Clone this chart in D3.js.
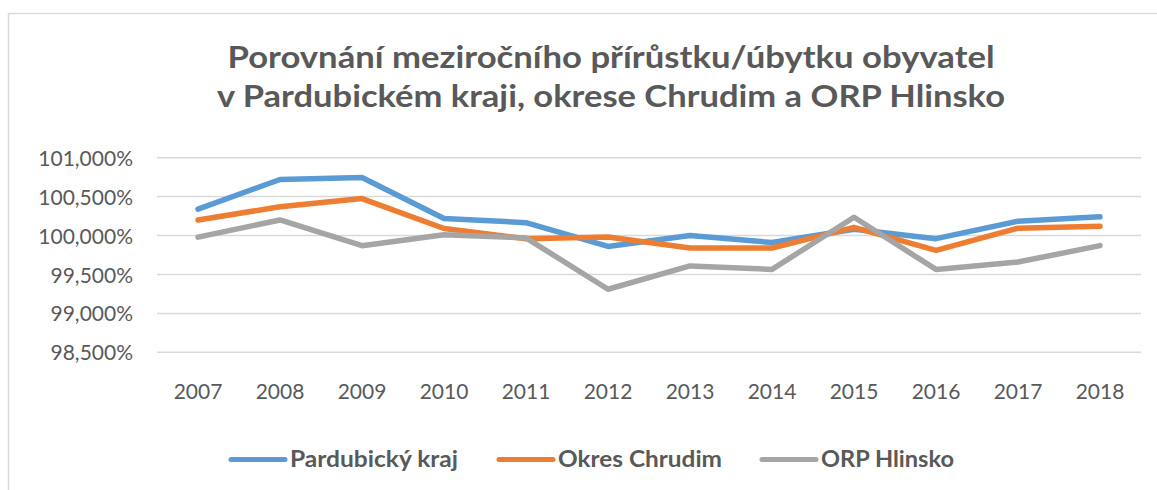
<!DOCTYPE html>
<html><head><meta charset="utf-8">
<script src="https://cdn.jsdelivr.net/npm/d3@7"></script>
<style>html,body{margin:0;padding:0;background:#fff;}svg{display:block;}</style>
</head><body>
<svg id="c" width="1157" height="490"></svg>
<script>
const years = ["2007","2008","2009","2010","2011","2012","2013","2014","2015","2016","2017","2018"];
const pardubickyKraj = [100.34,100.72,100.745,100.22,100.165,99.86,100.00,99.91,100.08,99.96,100.185,100.24];
const okresChrudim   = [100.20,100.37,100.475,100.09,99.96,99.98,99.84,99.84,100.105,99.81,100.095,100.12];
const orpHlinsko     = [99.98,100.20,99.87,100.01,99.97,99.31,99.61,99.565,100.235,99.565,99.66,99.87];
const seriesNames = ["Pardubický kraj","Okres Chrudim","ORP Hlinsko"];
const yTicks = [98.5,99,99.5,100,100.5,101];
const titleLines = ["Porovnání meziročního přírůstku/úbytku obyvatel","v Pardubickém kraji, okrese Chrudim a ORP Hlinsko"];

const colors = ["#5B9BD5","#ED7D31","#A5A5A5"];
const series = [pardubickyKraj, okresChrudim, orpHlinsko];

const svg = d3.select("#c");
const fmt = d3.formatLocale({decimal:",",thousands:"\u00a0",grouping:[3],currency:["","Kč"]}).format(".3f");

// frame
svg.append("rect").attr("x",8.5).attr("y",13.5).attr("width",1200).attr("height",600)
  .attr("fill","#fff").attr("stroke","#d9d9d9").attr("stroke-width",1.5);

// title
const tWidths = [767, 788];
const tBase = [68, 107];
titleLines.forEach((t,i)=>{
  svg.append("text").attr("x",611).attr("y",tBase[i]).attr("text-anchor","middle")
    .attr("font-family","Lato, 'Open Sans', sans-serif").attr("font-weight","bold")
    .attr("font-size",30).attr("fill","#595959")
    .attr("textLength",tWidths[i]).attr("lengthAdjust","spacingAndGlyphs").text(t);
});

const x = d3.scaleBand().domain(years).range([157,1141]);
const y = d3.scaleLinear().domain([98.5,101]).range([352.3,157.7]);
const cx = d => x(d) + x.bandwidth()/2;

// grid
svg.append("g").selectAll("line").data(yTicks).join("line")
  .attr("x1",157).attr("x2",1141).attr("y1",d=>y(d)).attr("y2",d=>y(d))
  .attr("stroke","#d9d9d9").attr("stroke-width",1.5);

// y axis labels
const yAxis = d3.axisLeft(y).tickValues(yTicks).tickFormat(d=>fmt(d)+"%").tickSize(0).tickPadding(0);
const gy = svg.append("g").attr("transform","translate(133,0)").call(yAxis);
gy.select(".domain").remove();
gy.selectAll("text").attr("font-family","Lato, 'Open Sans', sans-serif").attr("font-size",21).attr("fill","#595959").attr("dy","0.36em");

// x axis labels
const xAxis = d3.axisBottom(x).tickSize(0).tickPadding(0);
const gx = svg.append("g").attr("transform","translate(0,384)").call(xAxis);
gx.select(".domain").remove();
gx.selectAll("text").attr("font-family","Lato, 'Open Sans', sans-serif").attr("font-size",21).attr("fill","#595959").attr("dy","0.71em");

// lines
const line = d3.line().x((d,i)=>cx(years[i])).y(d=>y(d));
svg.append("g").selectAll("path").data(series).join("path")
  .attr("d",d=>line(d)).attr("fill","none").attr("stroke",(d,i)=>colors[i])
  .attr("stroke-width",5.5).attr("stroke-linejoin","round").attr("stroke-linecap","round");

// legend
const legX = [231, 499, 762];
const legTextW = [168, 164, 133];
const lg = svg.append("g");
seriesNames.forEach((n,i)=>{
  lg.append("line").attr("x1",legX[i]).attr("x2",legX[i]+54).attr("y1",459.5).attr("y2",459.5)
    .attr("stroke",colors[i]).attr("stroke-width",5).attr("stroke-linecap","round");
  lg.append("text").attr("x",legX[i]+59).attr("y",466.5)
    .attr("font-family","Lato, 'Open Sans', sans-serif").attr("font-weight","bold").attr("font-size",23)
    .attr("fill","#595959").attr("textLength",legTextW[i]).attr("lengthAdjust","spacingAndGlyphs").text(n);
});
</script>
</body></html>
